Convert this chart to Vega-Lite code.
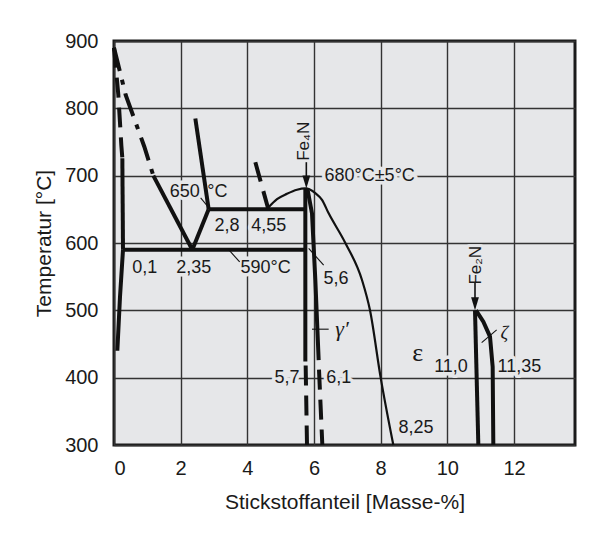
{
  "$schema": "https://vega.github.io/schema/vega-lite/v6.json",
  "width": 461,
  "height": 404,
  "autosize": {"type": "none"},
  "padding": {"left": 114, "top": 41, "right": 24, "bottom": 90},
  "background": "#ffffff",
  "config": {
    "view": {"fill": "#e6e7e9", "stroke": "#1a1a1a", "strokeWidth": 3},
    "axis": {
      "grid": true, "gridColor": "#333333", "gridWidth": 1.4, "gridOpacity": 1,
      "ticks": false, "domain": false,
      "labelFont": "Liberation Sans", "labelFontSize": 20, "labelColor": "#1a1a1a",
      "titleFont": "Liberation Sans", "titleFontSize": 21, "titleFontWeight": "normal", "titleColor": "#1a1a1a"
    },
    "text": {"font": "Liberation Sans", "fontSize": 18, "color": "#1a1a1a"}
  },
  "datasets": {
    "lines": [
      {"s": "a1", "k": "dashed", "o": 1, "x": 0.0, "y": 890},
      {"s": "a1", "k": "dashed", "o": 2, "x": 0.13, "y": 820},
      {"s": "a1", "k": "dashed", "o": 3, "x": 0.22, "y": 745},
      {"s": "a1", "k": "dashed", "o": 4, "x": 0.25, "y": 726},
      {"s": "a2", "k": "solid", "o": 5, "x": 0.25, "y": 726},
      {"s": "a2", "k": "solid", "o": 6, "x": 0.27, "y": 590},
      {"s": "a3", "k": "solid", "o": 7, "x": 0.27, "y": 590},
      {"s": "a3", "k": "solid", "o": 8, "x": 0.18, "y": 520},
      {"s": "a3", "k": "solid", "o": 9, "x": 0.1, "y": 440},
      {"s": "g1", "k": "dashdot", "o": 10, "x": 0.0, "y": 890},
      {"s": "g1", "k": "dashdot", "o": 11, "x": 0.35, "y": 820},
      {"s": "g1", "k": "dashdot", "o": 12, "x": 0.91, "y": 743},
      {"s": "g1", "k": "dashdot", "o": 13, "x": 1.18, "y": 700},
      {"s": "g2", "k": "solid", "o": 14, "x": 1.18, "y": 700},
      {"s": "g2", "k": "solid", "o": 15, "x": 2.35, "y": 590},
      {"s": "g3", "k": "solid", "o": 16, "x": 2.35, "y": 590},
      {"s": "g3", "k": "solid", "o": 17, "x": 2.84, "y": 650},
      {"s": "g4", "k": "solid", "o": 18, "x": 2.44, "y": 785},
      {"s": "g4", "k": "solid", "o": 19, "x": 2.84, "y": 650},
      {"s": "h650", "k": "solid", "o": 20, "x": 2.84, "y": 650},
      {"s": "h650", "k": "solid", "o": 21, "x": 5.74, "y": 650},
      {"s": "h590", "k": "solid", "o": 22, "x": 0.27, "y": 590},
      {"s": "h590", "k": "solid", "o": 23, "x": 5.74, "y": 590},
      {"s": "d1", "k": "dashed", "o": 24, "x": 4.24, "y": 720},
      {"s": "d1", "k": "dashed", "o": 25, "x": 4.62, "y": 652},
      {"s": "c1", "k": "curve", "o": 26, "x": 4.62, "y": 652},
      {"s": "c1", "k": "curve", "o": 27, "x": 4.89, "y": 665},
      {"s": "c1", "k": "curve", "o": 28, "x": 5.19, "y": 673},
      {"s": "c1", "k": "curve", "o": 29, "x": 5.49, "y": 679},
      {"s": "c1", "k": "curve", "o": 30, "x": 5.74, "y": 681},
      {"s": "c1", "k": "curve", "o": 31, "x": 6.04, "y": 674},
      {"s": "c1", "k": "curve", "o": 32, "x": 6.24, "y": 664},
      {"s": "c1", "k": "curve", "o": 33, "x": 6.44, "y": 644},
      {"s": "c1", "k": "curve", "o": 34, "x": 6.94, "y": 600},
      {"s": "c1", "k": "curve", "o": 35, "x": 7.44, "y": 545},
      {"s": "c1", "k": "curve", "o": 36, "x": 7.68, "y": 500},
      {"s": "c1", "k": "curve", "o": 37, "x": 8.0, "y": 400},
      {"s": "c1", "k": "curve", "o": 38, "x": 8.38, "y": 300},
      {"s": "f1", "k": "solid", "o": 39, "x": 5.74, "y": 681},
      {"s": "f1", "k": "solid", "o": 40, "x": 5.74, "y": 424},
      {"s": "f2", "k": "dashed", "o": 41, "x": 5.75, "y": 418},
      {"s": "f2", "k": "dashed", "o": 42, "x": 5.79, "y": 300},
      {"s": "f3", "k": "solid", "o": 43, "x": 5.8, "y": 681},
      {"s": "f3", "k": "solid", "o": 44, "x": 5.94, "y": 644},
      {"s": "f3", "k": "solid", "o": 45, "x": 6.04, "y": 545},
      {"s": "f3", "k": "solid", "o": 46, "x": 6.14, "y": 426},
      {"s": "f4", "k": "dashed", "o": 47, "x": 6.15, "y": 412},
      {"s": "f4", "k": "dashed", "o": 48, "x": 6.25, "y": 300},
      {"s": "e1", "k": "solid", "o": 49, "x": 10.83, "y": 500},
      {"s": "e1", "k": "solid", "o": 50, "x": 10.93, "y": 300},
      {"s": "e2", "k": "solid", "o": 51, "x": 10.86, "y": 500},
      {"s": "e2", "k": "solid", "o": 52, "x": 11.08, "y": 483},
      {"s": "e2", "k": "solid", "o": 53, "x": 11.28, "y": 461},
      {"s": "e2", "k": "solid", "o": 54, "x": 11.36, "y": 416},
      {"s": "e2", "k": "solid", "o": 55, "x": 11.38, "y": 300},
      {"s": "L1", "k": "thin", "o": 56, "x": 2.6, "y": 667},
      {"s": "L1", "k": "thin", "o": 57, "x": 2.85, "y": 652},
      {"s": "L2", "k": "thin", "o": 58, "x": 3.44, "y": 590},
      {"s": "L2", "k": "thin", "o": 59, "x": 3.77, "y": 572},
      {"s": "L3", "k": "thin", "o": 60, "x": 5.84, "y": 592},
      {"s": "L3", "k": "thin", "o": 61, "x": 6.29, "y": 567},
      {"s": "L4", "k": "thin", "o": 62, "x": 5.94, "y": 472},
      {"s": "L4", "k": "thin", "o": 63, "x": 6.44, "y": 472},
      {"s": "L5", "k": "thin", "o": 64, "x": 11.03, "y": 452},
      {"s": "L5", "k": "thin", "o": 65, "x": 11.48, "y": 471},
      {"s": "A1", "k": "arrow", "o": 66, "x": 5.77, "y": 720},
      {"s": "A1", "k": "arrow", "o": 67, "x": 5.77, "y": 688},
      {"s": "A2", "k": "arrow", "o": 68, "x": 10.83, "y": 542},
      {"s": "A2", "k": "arrow", "o": 69, "x": 10.83, "y": 507}
    ],
    "heads": [
      {"x": 5.77, "y": 681},
      {"x": 10.83, "y": 500}
    ],
    "labels": [
      {"t": "650", "x": 2.12, "y": 676},
      {"t": "°C", "x": 3.1, "y": 676},
      {"t": "2,8", "x": 3.39, "y": 625},
      {"t": "4,55", "x": 4.64, "y": 625},
      {"t": "0,1", "x": 0.92, "y": 563},
      {"t": "2,35", "x": 2.39, "y": 563},
      {"t": "590°C", "x": 4.55, "y": 563},
      {"t": "5,6", "x": 6.66, "y": 547},
      {"t": "680°C±5°C", "x": 7.67, "y": 700},
      {"t": "5,7", "x": 5.19, "y": 400},
      {"t": "6,1", "x": 6.74, "y": 400},
      {"t": "11,0", "x": 10.11, "y": 416},
      {"t": "11,35", "x": 12.16, "y": 416},
      {"t": "8,25", "x": 9.06, "y": 325}
    ],
    "rlabels": [
      {"t": "Fe₄N", "x": 5.7, "y": 751},
      {"t": "Fe₂N", "x": 10.86, "y": 567}
    ],
    "greek": [
      {"t": "ε", "x": 9.11, "y": 437},
      {"t": "γ′", "x": 6.84, "y": 473},
      {"t": "ζ", "x": 11.71, "y": 467}
    ]
  },
  "encoding": {
    "x": {
      "field": "x", "type": "quantitative",
      "scale": {"domain": [0, 13.83], "nice": false, "zero": false},
      "axis": {"values": [0, 2, 4, 6, 8, 10, 12], "labelPadding": 13, "titlePadding": 13, "title": "Stickstoffanteil [Masse-%]"}
    },
    "y": {
      "field": "y", "type": "quantitative",
      "scale": {"domain": [300, 900], "nice": false, "zero": false},
      "axis": {"values": [300, 400, 500, 600, 700, 800, 900], "labelPadding": 16, "titlePadding": 10, "title": "Temperatur [°C]"}
    }
  },
  "layer": [
    {
      "data": {"name": "labels"},
      "mark": {"type": "text", "align": "center", "baseline": "middle", "stroke": "#e6e7e9", "strokeWidth": 7, "strokeJoin": "round", "fill": "#e6e7e9"},
      "encoding": {"text": {"field": "t"}}
    },
    {
      "data": {"name": "rlabels"},
      "mark": {"type": "text", "align": "center", "baseline": "middle", "angle": 270, "fontSize": 17, "stroke": "#e6e7e9", "strokeWidth": 6, "strokeJoin": "round", "fill": "#e6e7e9"},
      "encoding": {"text": {"field": "t"}}
    },
    {
      "data": {"name": "lines"},
      "transform": [{"filter": "datum.k == 'solid'"}],
      "mark": {"type": "line", "color": "#111111", "strokeWidth": 4},
      "encoding": {"detail": {"field": "s"}, "order": {"field": "o"}}
    },
    {
      "data": {"name": "lines"},
      "transform": [{"filter": "datum.k == 'dashed'"}],
      "mark": {"type": "line", "color": "#111111", "strokeWidth": 4, "strokeDash": [20, 10]},
      "encoding": {"detail": {"field": "s"}, "order": {"field": "o"}}
    },
    {
      "data": {"name": "lines"},
      "transform": [{"filter": "datum.k == 'dashdot'"}],
      "mark": {"type": "line", "color": "#111111", "strokeWidth": 4, "strokeDash": [24, 9, 5, 9]},
      "encoding": {"detail": {"field": "s"}, "order": {"field": "o"}}
    },
    {
      "data": {"name": "lines"},
      "transform": [{"filter": "datum.k == 'curve'"}],
      "mark": {"type": "line", "color": "#111111", "strokeWidth": 2.2, "interpolate": "monotone"},
      "encoding": {"detail": {"field": "s"}, "order": {"field": "o"}}
    },
    {
      "data": {"name": "lines"},
      "transform": [{"filter": "datum.k == 'thin'"}],
      "mark": {"type": "line", "color": "#111111", "strokeWidth": 1.1},
      "encoding": {"detail": {"field": "s"}, "order": {"field": "o"}}
    },
    {
      "data": {"name": "lines"},
      "transform": [{"filter": "datum.k == 'arrow'"}],
      "mark": {"type": "line", "color": "#111111", "strokeWidth": 1.6},
      "encoding": {"detail": {"field": "s"}, "order": {"field": "o"}}
    },
    {
      "data": {"name": "heads"},
      "mark": {"type": "point", "shape": "M-0.6,-2L0.6,-2L0,0Z", "size": 169, "filled": true, "color": "#111111", "opacity": 1}
    },
    {
      "data": {"name": "labels"},
      "mark": {"type": "text", "align": "center", "baseline": "middle"},
      "encoding": {"text": {"field": "t"}}
    },
    {
      "data": {"name": "rlabels"},
      "mark": {"type": "text", "align": "center", "baseline": "middle", "angle": 270, "fontSize": 17},
      "encoding": {"text": {"field": "t"}}
    },
    {
      "data": {"name": "greek"},
      "transform": [{"filter": "datum.t == 'ε'"}],
      "mark": {"type": "text", "align": "center", "baseline": "middle", "font": "Liberation Serif", "fontSize": 26},
      "encoding": {"text": {"field": "t"}}
    },
    {
      "data": {"name": "greek"},
      "transform": [{"filter": "datum.t == 'γ′'"}],
      "mark": {"type": "text", "align": "center", "baseline": "middle", "font": "Liberation Serif", "fontStyle": "italic", "fontSize": 22},
      "encoding": {"text": {"field": "t"}}
    },
    {
      "data": {"name": "greek"},
      "transform": [{"filter": "datum.t == 'ζ'"}],
      "mark": {"type": "text", "align": "center", "baseline": "middle", "font": "Liberation Serif", "fontStyle": "italic", "fontSize": 19},
      "encoding": {"text": {"field": "t"}}
    }
  ]
}
